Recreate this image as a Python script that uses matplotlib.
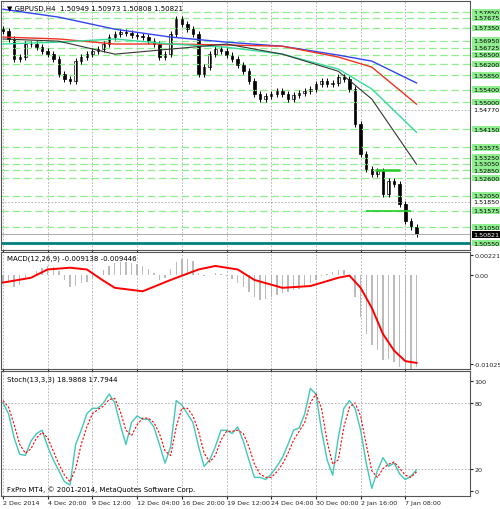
import matplotlib
matplotlib.use("Agg")
import matplotlib.pyplot as plt
import numpy as np

# 8h steps, prices
closes = [1.5725, 1.5700, 1.5636, 1.5643, 1.5684, 1.5684, 1.5674, 1.5662, 1.5652, 1.5636,
          1.5589, 1.5573, 1.5567, 1.5630, 1.5643, 1.5652, 1.5662, 1.5668, 1.5684, 1.5706,
          1.5715, 1.5722, 1.5719, 1.5712, 1.5709, 1.5706, 1.5693, 1.5684, 1.5643, 1.5652,
          1.5715, 1.5763, 1.5747, 1.5731, 1.5715, 1.5589, 1.5611, 1.5652, 1.5668, 1.5662,
          1.5649, 1.5636, 1.5617, 1.5598, 1.5567, 1.5526, 1.5510, 1.5519, 1.5526, 1.5535,
          1.5526, 1.5510, 1.5522, 1.5529, 1.5535, 1.5541, 1.5557, 1.5567, 1.5557, 1.5560,
          1.5579, 1.5573, 1.5541, 1.5431, 1.5336, 1.5289, 1.5273, 1.5282, 1.5210, 1.5251,
          1.5241, 1.5178, 1.5124, 1.5105, 1.50821]
ma_idx = [0, 10, 20, 30, 40, 50, 60, 66, 74]
ma_blue = [1.5794, 1.5769, 1.5731, 1.5706, 1.5690, 1.5677, 1.5649, 1.5630, 1.5561]
ma_red = [1.5706, 1.5700, 1.5684, 1.5684, 1.5681, 1.5677, 1.5643, 1.5611, 1.5494]
ma_mint = [1.5684, 1.5690, 1.5700, 1.5684, 1.5674, 1.5652, 1.5605, 1.5542, 1.5405]
ma_black = [1.5700, 1.5693, 1.5652, 1.5668, 1.5684, 1.5652, 1.5598, 1.5510, 1.5304]
levels = [1.5785, 1.57675, 1.5735, 1.5695, 1.56725, 1.565, 1.562, 1.5585, 1.554, 1.55,
          1.5415, 1.53575, 1.5325, 1.5305, 1.5285, 1.526, 1.5205, 1.51575, 1.5105, 1.5055]

macd_hist = [-0.8, -1.0, -1.4, -1.2, -0.6, 0.0, 0.4, 0.8, 1.0, 0.9,
             0.4, -0.6, -1.4, -1.3, -1.0, -0.8, -0.4, 0.0, 0.5, 1.0,
             1.3, 1.4, 1.4, 1.3, 1.2, 1.0, 0.6, 0.2, -0.6, -0.4,
             0.6, 1.4, 1.8, 1.8, 1.6, 0.2, -0.2, 0.0, 0.2, 0.1,
             -0.2, -0.5, -0.9, -1.4, -2.0, -2.6, -2.9, -2.8, -2.6, -2.3,
             -2.1, -2.0, -1.8, -1.6, -1.3, -1.0, -0.6, -0.2, 0.1, 0.3,
             0.5, 0.5, -0.3, -2.5, -4.8, -6.8, -8.0, -8.6, -9.8, -9.6,
             -10.0, -10.6, -10.9, -10.8, -10.6]
sig_idx = [0, 5, 8, 12, 15, 18, 20, 25, 30, 35, 38, 42, 45, 50, 55, 60, 62, 64, 66, 68, 70, 72, 74]
macd_sig = [-0.9, -0.35, 0.6, 0.8, 0.6, -0.7, -1.5, -1.9, -0.6, 0.6, 1.0, 0.6, -0.6, -1.5, -1.3,
            -0.35, -0.1, -1.5, -3.8, -6.8, -8.7, -9.9, -10.1]

stoch_k = [80, 70, 48, 33, 32, 45, 52, 55, 40, 28,
           18, 8, 5, 42, 55, 70, 75, 75, 80, 88,
           80, 60, 42, 62, 68, 65, 65, 58, 42, 25,
           40, 82, 78, 70, 62, 40, 22, 28, 40, 55,
           55, 52, 58, 45, 28, 12, 12, 10, 15, 22,
           30, 42, 55, 57, 70, 93, 88, 55, 28, 14,
           48, 75, 82, 75, 55, 25, 2, 18, 30, 22,
           25, 15, 10, 13, 19]
stoch_d = [82, 76, 60, 42, 34, 38, 48, 53, 48, 36,
           24, 14, 8, 20, 42, 58, 70, 74, 77, 83,
           84, 72, 55, 50, 60, 66, 66, 62, 52, 36,
           32, 58, 75, 75, 68, 54, 34, 26, 32, 46,
           54, 54, 55, 52, 40, 24, 15, 12, 12, 17,
           24, 34, 46, 54, 62, 80, 88, 75, 45, 24,
           28, 58, 76, 80, 68, 42, 18, 12, 20, 24,
           26, 20, 14, 12, 17]
tick_idx = [0, 8, 16, 24, 32, 40, 48, 56, 64, 72]
tick_labels = ["2 Dec 2014", "4 Dec 20:00", "9 Dec 12:00", "12 Dec 04:00", "16 Dec 20:00",
               "19 Dec 12:00", "24 Dec 04:00", "30 Dec 00:00", "2 Jan 16:00", "7 Jan 08:00"]

W, H = 500, 510
FS = 4.6
fig = plt.figure(figsize=(5, 5.1), dpi=100)
fig.patch.set_facecolor("white")
XL = (-2 / 5.6, 468 / 5.6)


def mkax(top, bottom):
    ax = fig.add_axes([1 / W, 1 - bottom / H, 469 / W, (bottom - top) / H])
    ax.set_xlim(*XL)
    for s in ax.spines.values():
        s.set_color("#555555")
        s.set_linewidth(0.8)
    ax.yaxis.tick_right()
    ax.tick_params(labelsize=FS, length=2, pad=1, colors="#222222")
    ax.set_xticks(tick_idx)
    ax.set_xticklabels([])
    ax.grid(axis="x", color="#aaaaaa", linestyle=(0, (2, 2)), linewidth=0.6)
    return ax


# price panel
ax = mkax(2, 251)
ax.set_ylim(1.5033, 1.5820)
ax.set_yticks([])
for lv in levels:
    ax.axhline(lv, color="#90ee90", linestyle=(0, (6, 3)), linewidth=0.9)
    ax.text(1.006, lv, f"{lv:.5f}", transform=ax.get_yaxis_transform(), fontsize=FS,
            va="center", ha="left", color="black",
            bbox=dict(facecolor="#90ee90", edgecolor="none", pad=0.5))
for lv in [1.5477, 1.5185]:
    ax.axhline(lv, color="#aaaaaa", linestyle=(0, (2, 2)), linewidth=0.6)
    ax.text(1.006, lv, f"{lv:.5f}", transform=ax.get_yaxis_transform(), fontsize=FS,
            va="center", ha="left", color="black")
opens = [closes[0] + 0.0008] + closes[:-1]
for i, (o, c) in enumerate(zip(opens, closes)):
    lo, hi = min(o, c), max(o, c)
    ax.vlines(i, lo - 0.0009, hi + 0.0009, color="black", linewidth=0.7)
    ax.bar(i, max(hi - lo, 0.00015), bottom=lo, width=0.45,
           color="white" if c > o else "black", edgecolor="black", linewidth=0.5)
ax.plot(ma_idx, ma_blue, color="#3344ee", linewidth=1)
ax.plot(ma_idx, ma_red, color="#ee3322", linewidth=1)
ax.plot(ma_idx, ma_mint, color="#33dd99", linewidth=1)
ax.plot(ma_idx, ma_black, color="#333333", linewidth=0.8)
ax.hlines(1.5285, 66.5, 71, color="#22cc22", linewidth=1.8)
ax.hlines(1.51575, 65, 73, color="#22cc22", linewidth=1.2)
ax.axhline(1.5055, color="#008080", linewidth=2)
ax.axhline(closes[-1], color="#aaaaaa", linewidth=0.7)
ax.text(1.006, closes[-1], f"{closes[-1]:.5f}", transform=ax.get_yaxis_transform(),
        fontsize=FS, va="center", ha="left", color="white",
        bbox=dict(facecolor="black", edgecolor="none", pad=0.5))
ax.text(0.012, 0.985, "\u25bc GBPUSD,H4  1.50949 1.50973 1.50808 1.50821", transform=ax.transAxes,
        fontsize=5, va="top", ha="left")

# MACD panel
ax2 = mkax(253, 370)
ax2.set_ylim(-0.0108, 0.0026)
ax2.bar(np.arange(len(macd_hist)), np.array(macd_hist) * 1e-3, width=0.25, color="#bbbbbb")
ax2.plot(sig_idx, np.array(macd_sig) * 1e-3, color="red", linewidth=1.4)
ax2.set_yticks([0.002218, 0.0, -0.010253])
ax2.set_yticklabels(["0.002218", "0.00", "-0.010253"])
ax2.text(0.012, 0.975, "MACD(12,26,9) -0.009138 -0.009446", transform=ax2.transAxes,
         fontsize=5, va="top", ha="left")

# Stochastic panel
ax3 = mkax(372, 497)
ax3.set_ylim(-5, 109)
ax3.plot(np.arange(len(stoch_k)), stoch_k, color="#40c8b8", linewidth=1)
ax3.plot(np.arange(len(stoch_d)), stoch_d, color="red", linewidth=0.8, linestyle=(0, (2, 1.5)))
for lv in [80, 20]:
    ax3.axhline(lv, color="#aaaaaa", linestyle=(0, (2, 2)), linewidth=0.6)
ax3.set_yticks([100, 80, 20, 0])
ax3.text(0.012, 0.965, "Stoch(13,3,3) 18.9868 17.7944", transform=ax3.transAxes,
         fontsize=5, va="top", ha="left")
ax3.text(0.012, 0.03, "FxPro MT4, \u00a9 2001-2014, MetaQuotes Software Corp.", transform=ax3.transAxes,
         fontsize=5, va="bottom", ha="left")
ax3.set_xticklabels(tick_labels, fontsize=FS, ha="left")

fig.savefig("out.png", dpi=100, facecolor="white")
